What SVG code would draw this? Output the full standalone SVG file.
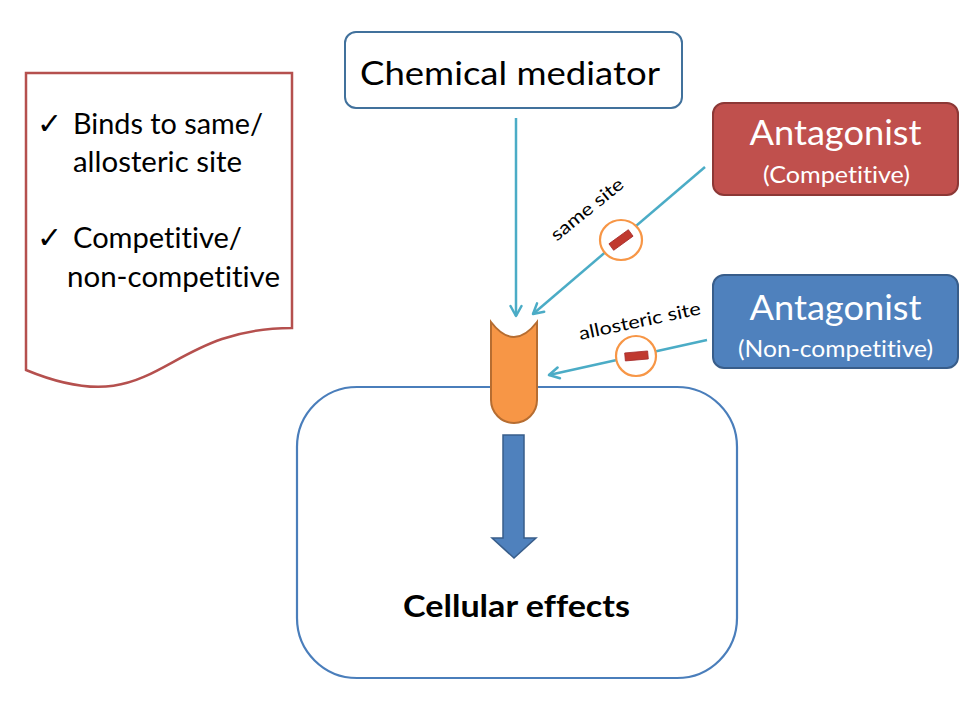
<svg xmlns="http://www.w3.org/2000/svg" width="960" height="720" viewBox="0 0 960 720">
<style>
.t{font-family:Lato,"Liberation Sans",sans-serif;fill:#000;font-variant-ligatures:none}
.w{font-family:Lato,"Liberation Sans",sans-serif;fill:#fff;font-variant-ligatures:none}
.ck{font-family:"DejaVu Sans",sans-serif;fill:#000}
.con{fill:none;stroke:#4BACC6;stroke-width:2.5}
.ring{fill:#fff;stroke:#F79646;stroke-width:2.2}
.dash{fill:#C0392F;stroke:#A52A2A;stroke-width:0.8}
</style>
<defs>
<marker id="ah" viewBox="0 0 14 14" refX="12" refY="7" markerWidth="14" markerHeight="14" markerUnits="userSpaceOnUse" orient="auto">
<path d="M2,1.5 L12,7 L2,12.5" fill="none" stroke="#4BACC6" stroke-width="2.5" stroke-linecap="round" stroke-linejoin="round"/>
</marker>
</defs>
<rect width="960" height="720" fill="#fff"/>

<g id="notes">
<path d="M26,73 H292 V328 C159,328 159,425 26,370 Z" fill="#fff" stroke="#B5504E" stroke-width="2.5"/>
<text class="ck" x="37" y="134" font-size="30">✓</text>
<text class="t" x="73" y="134" font-size="28" textLength="190" lengthAdjust="spacingAndGlyphs">Binds to same/</text>
<text class="t" x="73" y="172" font-size="28" textLength="169" lengthAdjust="spacingAndGlyphs">allosteric site</text>
<text class="ck" x="37" y="248" font-size="30">✓</text>
<text class="t" x="73" y="248" font-size="28" textLength="169" lengthAdjust="spacingAndGlyphs">Competitive/</text>
<text class="t" x="67" y="287" font-size="28" textLength="213" lengthAdjust="spacingAndGlyphs">non-competitive</text>
</g>

<g id="cell">
<rect x="297" y="387" width="440" height="291" rx="60" ry="60" fill="#fff" stroke="#4A7EBB" stroke-width="2.2"/>
<text class="t" x="516.5" y="617" font-size="30" font-weight="bold" text-anchor="middle" textLength="227" lengthAdjust="spacingAndGlyphs">Cellular effects</text>
</g>

<g id="receptor">
<path d="M491,322 Q514,352 537,322 L537,400 A23,23 0 0 1 491,400 Z" fill="#F79646" stroke="#B66D31" stroke-width="2"/>
</g>

<g id="effect-arrow">
<polygon points="503,435 524,435 524,538 536,538 514,558 492,538 503,538" fill="#4F81BD" stroke="#385D8A" stroke-width="1.5"/>
</g>

<g id="mediator">
<rect x="345" y="32" width="337" height="76" rx="11" ry="11" fill="#fff" stroke="#41719C" stroke-width="2"/>
<text class="t" x="510" y="85" font-size="33" text-anchor="middle" textLength="300" lengthAdjust="spacingAndGlyphs">Chemical mediator</text>
</g>

<g id="antagonist-competitive">
<rect x="713" y="103" width="245" height="92" rx="11" ry="11" fill="#C0504D" stroke="#8C3836" stroke-width="2"/>
<text class="w" x="835.5" y="145" font-size="34" text-anchor="middle" textLength="172" lengthAdjust="spacingAndGlyphs">Antagonist</text>
<text class="w" x="836.5" y="183" font-size="24" text-anchor="middle" textLength="147" lengthAdjust="spacingAndGlyphs">(Competitive)</text>
</g>

<g id="antagonist-noncompetitive">
<rect x="713" y="275" width="245" height="93" rx="11" ry="11" fill="#4F81BD" stroke="#385D8A" stroke-width="2"/>
<text class="w" x="835.5" y="320" font-size="34" text-anchor="middle" textLength="172" lengthAdjust="spacingAndGlyphs">Antagonist</text>
<text class="w" x="835.5" y="357" font-size="24" text-anchor="middle" textLength="195" lengthAdjust="spacingAndGlyphs">(Non-competitive)</text>
</g>

<g id="connectors">
<line class="con" x1="516" y1="118" x2="516" y2="316" marker-end="url(#ah)"/>
<line class="con" x1="705" y1="167" x2="533" y2="314" marker-end="url(#ah)"/>
<line class="con" x1="707" y1="340" x2="549" y2="375" marker-end="url(#ah)"/>
<text class="t" x="591" y="214" font-size="18" text-anchor="middle" transform="rotate(-39 591 214)" textLength="88" lengthAdjust="spacingAndGlyphs">same site</text>
<text class="t" x="641" y="327" font-size="18" text-anchor="middle" transform="rotate(-12 641 327)" textLength="124" lengthAdjust="spacingAndGlyphs">allosteric site</text>
<ellipse class="ring" cx="621" cy="240" rx="21" ry="20"/>
<rect class="dash" x="609" y="236" width="24" height="8" transform="rotate(-36 621 240)"/>
<ellipse class="ring" cx="636" cy="356" rx="20" ry="20"/>
<rect class="dash" x="625" y="352" width="23" height="8" transform="rotate(-5 636 356)"/>
</g>
</svg>
